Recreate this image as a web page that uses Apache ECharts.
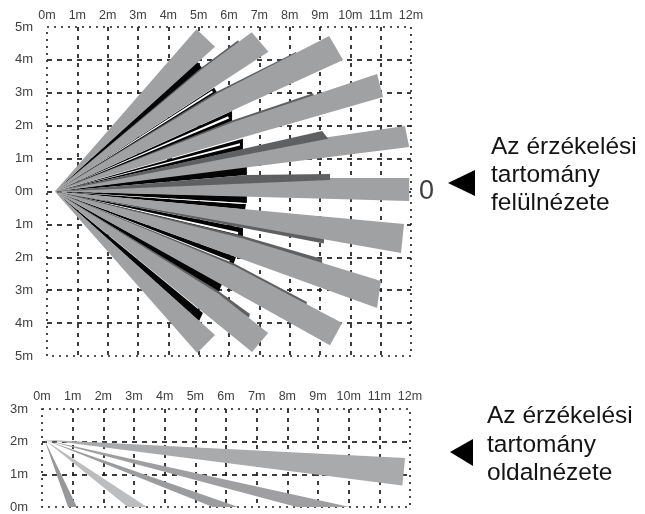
<!DOCTYPE html>
<html><head><meta charset="utf-8">
<style>html,body{margin:0;padding:0;background:#fff}#c{width:645px;height:514px}</style>
<script src="https://cdn.jsdelivr.net/npm/echarts@6/dist/echarts.min.js"></script>
</head><body><div id="c"></div>
<script>
const topApex = [0.26, 0];
const sideApex = [0.08, 2.06];
// each row: outline points (x,y in metres) after the shared apex
const topWedges = [
 [4.93,4.93,5.54,4.40],
 [5.11,3.72,6.75,4.84,7.30,4.25],
 [5.61,2.98,9.30,4.73,9.76,4.00],
 [6.10,2.10,10.88,3.57,11.08,2.87],
 [6.46,1.28,11.80,1.99,11.94,1.35],
 [6.59,0.41,11.94,0.41,11.94,-0.29],
 [11.77,-0.99,11.67,-1.87],
 [6.46,-1.43,11.01,-2.72,10.88,-3.54],
 [6.17,-2.26,9.73,-4.00,9.33,-4.67],
 [5.64,-3.10,7.29,-4.30,6.76,-4.88],
 [5.54,-4.36,4.95,-4.91]];
const darkUnder = [
 [5.11,3.78,6.30,4.60,6.36,4.48],
 [5.61,3.04,8.21,4.24,8.28,4.12],
 [6.10,2.16,8.77,2.99,8.83,2.87],
 [9.13,-1.41,9.13,-1.58],
 [6.46,-1.35,9.07,-2.05,9.07,-2.20],
 [6.17,-2.19,8.57,-3.36,8.54,-3.48],
 [5.64,-3.02,6.69,-3.72,6.66,-3.84]];
const darkOver = [
 [9.07,1.84,9.27,1.60],
 [6.59,0.50,9.33,0.53,9.33,0.35]];
const blackStrips = [
 [4.95,3.94,5.14,3.72],[5.51,3.15,5.64,2.96],[6.10,2.45,6.10,2.10],[6.46,1.60,6.46,1.28],[6.59,0.78,6.59,0.50],
 [6.59,-0.14,6.59,-0.35],[6.56,-0.38,6.53,-0.55],[6.46,-1.11,6.46,-1.43],[6.23,-1.99,6.13,-2.26],
 [5.77,-2.81,5.64,-3.10],[5.14,-3.69,5.01,-3.94]];
const whiteStrips = [
 [5.44,3.07,5.47,3.02],[5.97,2.29,6.00,2.22],[6.36,1.47,6.36,1.40],[6.46,-0.35,6.46,-0.38],
 [6.30,-1.23,6.30,-1.31],[6.03,-2.10,6.00,-2.16],[5.51,-2.96,5.47,-3.05]];
const sideWedges = [[11.84,1.50,11.75,0.66],[10.04,0,8.31,0],[6.40,0,5.57,0],[3.42,0,2.80,0],[1.14,0,0.85,0]];
const sideColors = ['#a9aaac','#9f9fa1','#9b9c9e','#bcbdbf','#97989a'];

const LBL = '#404040', FONT = '"Liberation Sans",Arial,sans-serif';
function fan(rows, apex, colorOf, idx, z){
  return {type:'custom', xAxisIndex:idx, yAxisIndex:idx, z, clip:false, silent:true,
    encode:{x:0,y:1},
    data:rows.map(r=>[r[0],r[1]]),
    renderItem:(params,api)=>{
      const r=rows[params.dataIndex], pts=[api.coord(apex)];
      for(let i=0;i<r.length;i+=2) pts.push(api.coord([r[i],r[i+1]]));
      return {type:'polygon', shape:{points:pts}, style:{fill:colorOf(params.dataIndex), stroke:null}};
    }};
}
function xA(gi){return {type:'value',gridIndex:gi,position:'top',min:0,max:12,interval:1,
  axisLine:{show:false},axisTick:{show:false},
  axisLabel:{color:LBL,fontFamily:FONT,fontSize:12.5,margin:gi?6:5,formatter:v=>v+'m',showMinLabel:true,showMaxLabel:true,hideOverlap:false},
  splitLine:{show:true,showMinLine:false,showMaxLine:false,lineStyle:{color:'#1c1c1c',width:1.7,type:[4,5]}}};}
function yA(gi,min,max){return {type:'value',gridIndex:gi,min,max,interval:1,
  axisLine:{show:false},axisTick:{show:false},
  axisLabel:{color:LBL,fontFamily:FONT,fontSize:13,margin:14,formatter:v=>Math.abs(v)+'m',showMinLabel:true,showMaxLabel:true},
  splitLine:{show:true,showMinLine:false,showMaxLine:false,lineStyle:{color:'#1c1c1c',width:1.7,type:[5,5]}}};}
function txt(x,y,t){return {type:'text',x,y,z:50,style:{text:t,fill:'#141414',font:'24.5px '+FONT,verticalAlign:'middle'}};}
function tri(pts){return {type:'polygon',z:50,shape:{points:pts},style:{fill:'#000'}};}

const chart = echarts.init(document.getElementById('c'),null,{renderer:'canvas'});
chart.setOption({
  animation:false, backgroundColor:'#fff',
  grid:[
    {left:47,top:27,width:364,height:329,show:true,borderColor:'#1c1c1c',borderWidth:1.6,borderType:[2,5],backgroundColor:'transparent'},
    {left:42,top:409,width:368,height:98,show:true,borderColor:'#1c1c1c',borderWidth:1.6,borderType:[2,5],backgroundColor:'transparent'}],
  xAxis:[xA(0),xA(1)],
  yAxis:[yA(0,-5,5),yA(1,0,3)],
  series:[
    fan(blackStrips,topApex,()=>'#050505',0,3),
    fan(whiteStrips,topApex,()=>'#ffffff',0,4),
    fan(darkUnder,topApex,()=>'#5f6062',0,5),
    fan(topWedges,topApex,()=>'#a0a1a3',0,6),
    fan(darkOver,topApex,()=>'#5f6062',0,7),
    fan(sideWedges,sideApex,i=>sideColors[i],1,6)
  ],
  graphic:[
    txt(491,147,'Az érzékelési'),txt(491,175,'tartomány'),txt(491,203,'felülnézete'),
    txt(487,416,'Az érzékelési'),txt(487,445,'tartomány'),txt(487,473,'oldalnézete'),
    {type:'text',x:419,y:192,z:50,style:{text:'0',fill:'#404040',font:'27px '+FONT,verticalAlign:'middle'}},
    tri([[448,183],[475,170],[475,196]]),
    tri([[450,452],[473,439],[473,466]])
  ]
});
</script></body></html>
